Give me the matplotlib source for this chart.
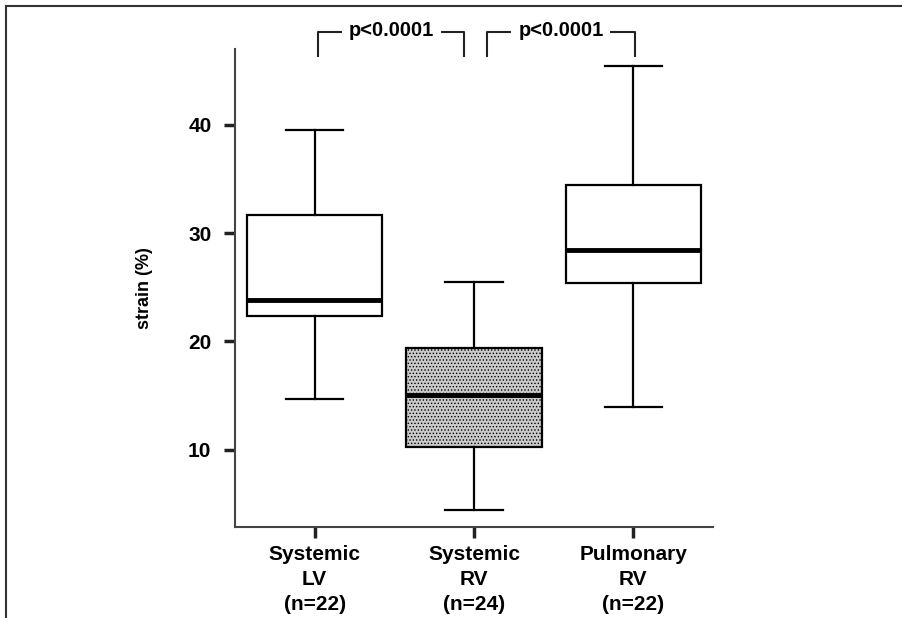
import matplotlib
matplotlib.use('Agg')
import matplotlib.pyplot as plt
from matplotlib.lines import Line2D

plt.rcParams['font.family'] = ['Liberation Sans', 'DejaVu Sans']
plt.rcParams['font.weight'] = 'bold'
plt.rcParams['hatch.linewidth'] = 0.6
plt.rcParams['hatch.color'] = '#6e6e6e'

# strain (%) per group: whisker low, Q1, median, Q3, whisker high
groups = ['Systemic\nLV\n(n=22)', 'Systemic\nRV\n(n=24)', 'Pulmonary\nRV\n(n=22)']
wlo = [14.7, 4.4, 13.9]
q1 = [22.3, 10.25, 25.4]
med = [23.8, 15.05, 28.4]
q3 = [31.65, 19.4, 34.4]
whi = [39.5, 25.5, 45.4]
pvals = ['p<0.0001', 'p<0.0001']
yticks = [10, 20, 30, 40]

fig = plt.figure(figsize=(9.03, 6.18), dpi=100)
ax = fig.add_axes([235/903, 91/618, 478/903, 478/618])

stats = []
for i in range(len(groups)):
    stats.append(dict(label=groups[i], whislo=wlo[i], q1=q1[i], med=med[i],
                      q3=q3[i], whishi=whi[i], fliers=[]))

bp = ax.bxp(stats, positions=[1, 2, 3], widths=0.85, patch_artist=True,
            showfliers=False,
            boxprops=dict(linewidth=1.6, edgecolor='black', facecolor='white'),
            medianprops=dict(linewidth=3.5, color='black', solid_capstyle='butt'),
            whiskerprops=dict(linewidth=1.6, color='black'),
            capprops=dict(linewidth=1.6, color='black'),
            capwidths=0.36)
bp['boxes'][1].set_facecolor('#cacaca')
bp['boxes'][1].set_hatch('.....')

ax.set_xlim(0.5, 3.5)
ax.set_ylim(2.85, 47.0)
ax.set_yticks(yticks)
ax.set_yticklabels([str(v) for v in yticks], fontsize=15, fontweight='bold')
ax.set_xticks([1, 2, 3])
ax.set_xticklabels(groups, fontsize=15, fontweight='bold', linespacing=1.4)
ax.tick_params(axis='both', direction='out', length=8, width=2.5, color='#222222')
ax.tick_params(axis='y', pad=9)
ax.tick_params(axis='x', pad=5)
for side in ['top', 'right']:
    ax.spines[side].set_visible(False)
for side in ['left', 'bottom']:
    ax.spines[side].set_linewidth(1.5)
    ax.spines[side].set_color('#444444')
ax.set_ylabel('strain (%)', fontsize=13, fontweight='bold', labelpad=25)

# significance brackets above the boxes
brackets = [(1.02, 1.94), (2.08, 3.01)]
for (xa, xb), txt in zip(brackets, pvals):
    xm = (xa + xb) / 2
    ax.plot([xa, xa, xm - 0.31], [46.3, 48.6, 48.6], color='#222222', lw=1.5,
            clip_on=False, solid_capstyle='butt')
    ax.plot([xm + 0.31, xb, xb], [48.6, 48.6, 46.3], color='#222222', lw=1.5,
            clip_on=False, solid_capstyle='butt')
    ax.text(xm, 48.7, txt, ha='center', va='center', fontsize=14.5,
            fontweight='bold', clip_on=False)

# outer frame lines
fig.add_artist(Line2D([6/903, 6/903], [0, 1 - 6/618], color='#333333', lw=1.5))
fig.add_artist(Line2D([6/903, 1], [1 - 6/618, 1 - 6/618], color='#333333', lw=1.5))

fig.savefig('out.png', dpi=100)
